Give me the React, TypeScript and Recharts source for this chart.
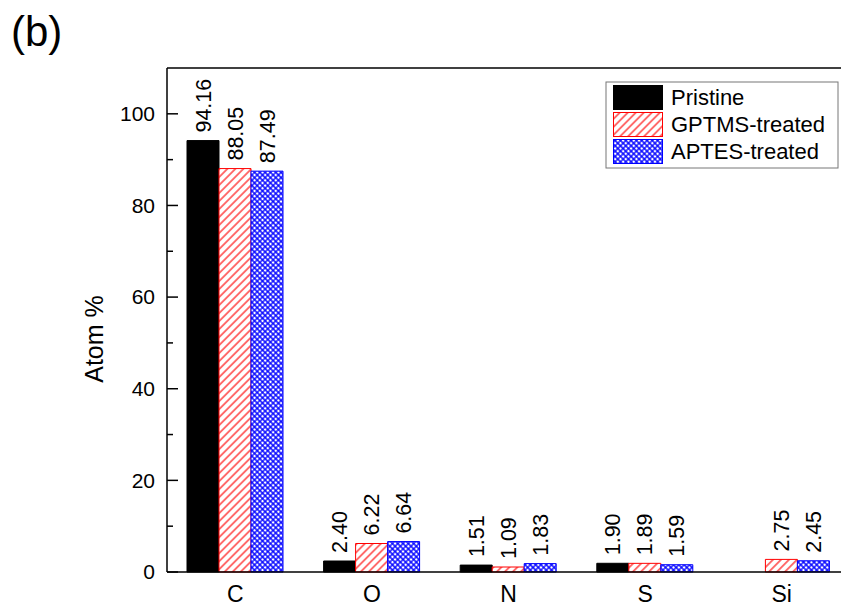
import React from "react";
import {
  BarChart,
  Bar,
  XAxis,
  YAxis,
  LabelList,
  ReferenceLine,
  Label,
} from "recharts";

const elements = ["C", "O", "N", "S", "Si"];
const pristine: Array<number | null> = [94.16, 2.4, 1.51, 1.9, null];
const gptms = [88.05, 6.22, 1.09, 1.89, 2.75];
const aptes = [87.49, 6.64, 1.83, 1.59, 2.45];
const yTicks = [0, 10, 20, 30, 40, 50, 60, 70, 80, 90, 100];
const seriesNames = ["Pristine", "GPTMS-treated", "APTES-treated"];

const data = elements.map((el, i) => ({
  element: el,
  pristine: pristine[i],
  gptms: gptms[i],
  aptes: aptes[i],
}));

const FONT = "'Liberation Sans', Arial, Helvetica, sans-serif";

// hatch fills shared by the bars and the legend swatches
const Patterns = ({ prefix }: { prefix: string }) => (
  <defs>
    <pattern
      id={`${prefix}-red`}
      patternUnits='userSpaceOnUse'
      width={5.66}
      height={5.66}
      patternTransform='rotate(45)'
    >
      <rect width={5.66} height={5.66} fill='#fff' />
      <line x1={2.83} y1={0} x2={2.83} y2={5.66} stroke='#ff0000' strokeWidth={1.1} />
    </pattern>
    <pattern
      id={`${prefix}-blue`}
      patternUnits='userSpaceOnUse'
      width={3.75}
      height={3.75}
      patternTransform='rotate(45)'
    >
      <rect width={3.75} height={3.75} fill='#fff' />
      <path d='M0 1.875 H3.75 M1.875 0 V3.75' stroke='#0000ff' strokeWidth={1.3} />
    </pattern>
  </defs>
);

const YTick = (props: any) => {
  const { x, y, payload } = props;
  const v = payload.value;
  const major = v % 20 === 0;
  return (
    <g>
      <line x1={x} x2={x + (major ? 11 : 6)} y1={y} y2={y} stroke='#000' strokeWidth={1.5} />
      {major && (
        <text x={x - 12} y={y} dy='0.35em' textAnchor='end' fontSize={21} fill='#000' fontFamily={FONT}>
          {v}
        </text>
      )}
    </g>
  );
};

const ValueLabel = (props: any) => {
  const { x, y, width, value } = props;
  if (value == null) return null;
  const cx = x + width / 2;
  const y0 = y - 8;
  return (
    <text
      x={cx}
      y={y0}
      dy='0.35em'
      textAnchor='start'
      transform={`rotate(-90 ${cx} ${y0})`}
      fontSize={21.5}
      fill='#000'
      fontFamily={FONT}
    >
      {Number(value).toFixed(2)}
    </text>
  );
};

const App: React.FC = () => {
  const swatchFills = ["#000", "url(#lg-red)", "url(#lg-blue)"];
  const swatchStrokes = ["#000", "#ff0000", "#0000ff"];
  return (
    <div
      style={{
        position: "absolute",
        left: 0,
        top: 0,
        width: 841,
        height: 609,
        overflow: "hidden",
        background: "#fff",
        fontFamily: FONT,
      }}
    >
      <BarChart
        width={870}
        height={609}
        data={data}
        margin={{ top: 68, right: 20, left: 0, bottom: 0 }}
        barCategoryGap={20}
        barGap={0}
      >
        <Patterns prefix='bar' />
        <XAxis
          dataKey='element'
          height={37}
          tickLine={false}
          tickSize={0}
          tickMargin={14}
          axisLine={{ stroke: "#000", strokeWidth: 1.5 }}
          tick={{ fontSize: 23, fill: "#000", fontFamily: FONT }}
        />
        <YAxis
          type='number'
          domain={[0, 110]}
          ticks={yTicks}
          interval={0}
          width={167}
          tickLine={false}
          tickSize={0}
          tickMargin={0}
          axisLine={{ stroke: "#000", strokeWidth: 1.5 }}
          tick={<YTick />}
        >
          <Label
            content={() => (
              <text
                x={94}
                y={339}
                transform='rotate(-90 94 339)'
                textAnchor='middle'
                dy='0.36em'
                fontSize={25}
                fill='#000'
                fontFamily={FONT}
              >
                Atom %
              </text>
            )}
          />
        </YAxis>
        <ReferenceLine y={110} stroke='#000' strokeWidth={1.5} />
        <Bar dataKey='pristine' fill='#000' stroke='#000' strokeWidth={1} isAnimationActive={false}>
          <LabelList dataKey='pristine' content={<ValueLabel />} />
        </Bar>
        <Bar dataKey='gptms' fill='url(#bar-red)' stroke='#ff0000' strokeWidth={1} isAnimationActive={false}>
          <LabelList dataKey='gptms' content={<ValueLabel />} />
        </Bar>
        <Bar dataKey='aptes' fill='url(#bar-blue)' stroke='#0000ff' strokeWidth={1} isAnimationActive={false}>
          <LabelList dataKey='aptes' content={<ValueLabel />} />
        </Bar>
      </BarChart>

      {/* panel tag and legend box */}
      <svg
        width={841}
        height={609}
        style={{ position: "absolute", left: 0, top: 0, pointerEvents: "none" }}
      >
        <Patterns prefix='lg' />
        <text x={11} y={46} fontSize={42} fill='#000' fontFamily={FONT}>
          (b)
        </text>
        <rect x={606} y={82} width={232} height={86} fill='#fff' stroke='#777' strokeWidth={1} />
        {seriesNames.map((name, i) => (
          <g key={name}>
            <rect
              x={613.5}
              y={85.5 + i * 27}
              width={49}
              height={24}
              fill={swatchFills[i]}
              stroke={swatchStrokes[i]}
              strokeWidth={1}
            />
            <text x={671} y={97.5 + i * 27} dy='0.36em' fontSize={22} fill='#000' fontFamily={FONT}>
              {name}
            </text>
          </g>
        ))}
      </svg>
    </div>
  );
};

export default App;
